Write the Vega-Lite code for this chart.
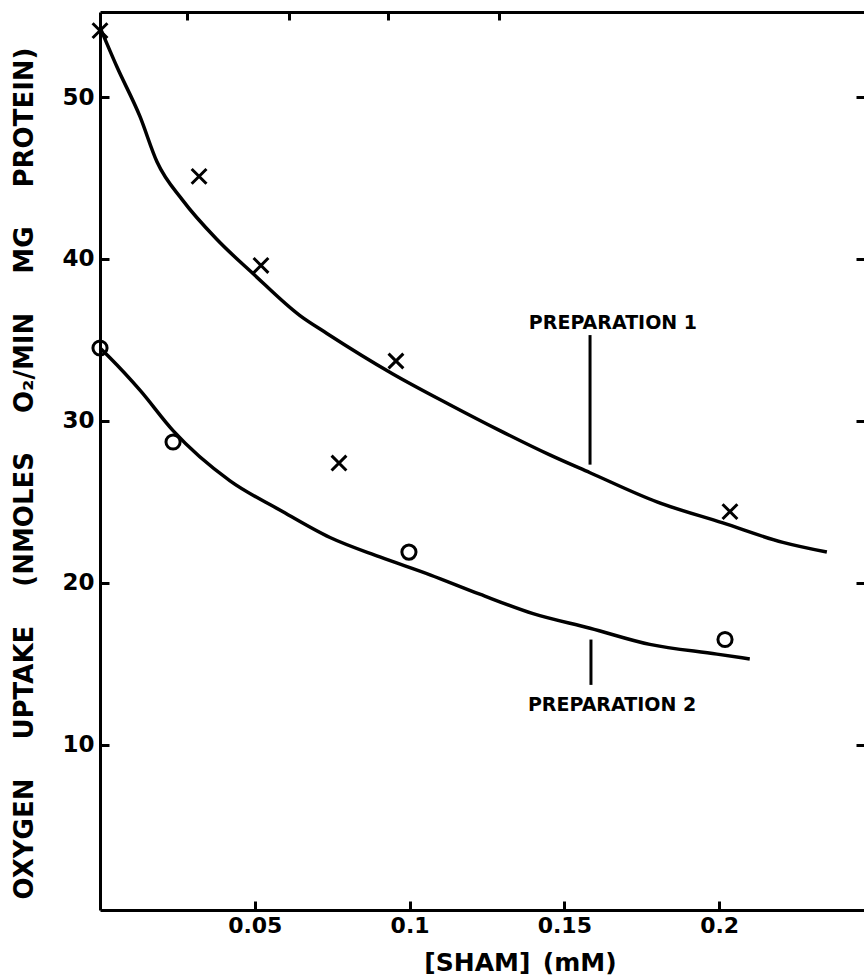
{
  "$schema": "https://vega.github.io/schema/vega-lite/v6.json",
  "width": 764,
  "height": 898,
  "autosize": {"type": "none"},
  "padding": {"left": 100, "top": 12, "right": 0, "bottom": 70},
  "background": "white",
  "config": {"view": {"stroke": null}},
  "datasets": {
    "curves": [
      {"series": "Preparation 1", "x": 0, "y": 54.3},
      {"series": "Preparation 1", "x": 0.0055, "y": 51.85},
      {"series": "Preparation 1", "x": 0.0129, "y": 48.8},
      {"series": "Preparation 1", "x": 0.0184, "y": 46.0},
      {"series": "Preparation 1", "x": 0.0268, "y": 43.6},
      {"series": "Preparation 1", "x": 0.0378, "y": 41.2},
      {"series": "Preparation 1", "x": 0.0494, "y": 39.1},
      {"series": "Preparation 1", "x": 0.0646, "y": 36.5},
      {"series": "Preparation 1", "x": 0.0733, "y": 35.4},
      {"series": "Preparation 1", "x": 0.0946, "y": 32.9},
      {"series": "Preparation 1", "x": 0.113, "y": 31.0},
      {"series": "Preparation 1", "x": 0.1292, "y": 29.4},
      {"series": "Preparation 1", "x": 0.1453, "y": 27.9},
      {"series": "Preparation 1", "x": 0.1583, "y": 26.8},
      {"series": "Preparation 1", "x": 0.1799, "y": 25.0},
      {"series": "Preparation 1", "x": 0.2012, "y": 23.7},
      {"series": "Preparation 1", "x": 0.2206, "y": 22.5},
      {"series": "Preparation 1", "x": 0.2348, "y": 21.9},
      {"series": "Preparation 2", "x": 0, "y": 34.5},
      {"series": "Preparation 2", "x": 0.0032, "y": 33.9},
      {"series": "Preparation 2", "x": 0.0129, "y": 31.9},
      {"series": "Preparation 2", "x": 0.0236, "y": 29.4},
      {"series": "Preparation 2", "x": 0.042, "y": 26.3},
      {"series": "Preparation 2", "x": 0.0581, "y": 24.5},
      {"series": "Preparation 2", "x": 0.0743, "y": 22.8},
      {"series": "Preparation 2", "x": 0.0904, "y": 21.6},
      {"series": "Preparation 2", "x": 0.1066, "y": 20.5},
      {"series": "Preparation 2", "x": 0.1227, "y": 19.3},
      {"series": "Preparation 2", "x": 0.1399, "y": 18.1},
      {"series": "Preparation 2", "x": 0.1583, "y": 17.2},
      {"series": "Preparation 2", "x": 0.1776, "y": 16.2},
      {"series": "Preparation 2", "x": 0.1993, "y": 15.6},
      {"series": "Preparation 2", "x": 0.2099, "y": 15.3}
    ],
    "prep1": [
      {"x": 0, "y": 54.1},
      {"x": 0.032, "y": 45.1},
      {"x": 0.052, "y": 39.6},
      {"x": 0.0772, "y": 27.4},
      {"x": 0.0956, "y": 33.7},
      {"x": 0.2035, "y": 24.4}
    ],
    "prep2": [
      {"x": 0, "y": 34.5},
      {"x": 0.0236, "y": 28.7},
      {"x": 0.0998, "y": 21.9},
      {"x": 0.2019, "y": 16.5}
    ],
    "labels": [
      {"label": "PREPARATION 1", "x": 0.1657, "y": 36.05},
      {"label": "PREPARATION 2", "x": 0.1654, "y": 12.47}
    ],
    "leaders": [
      {"x": 0.1583, "y": 35.3, "y2": 27.3},
      {"x": 0.1586, "y": 16.5, "y2": 13.7}
    ]
  },
  "resolve": {"axis": {"x": "independent", "y": "independent"}},
  "layer": [
    {
      "data": {"name": "curves"},
      "mark": {"type": "line", "color": "black", "strokeWidth": 3.5, "interpolate": "monotone"},
      "encoding": {
        "x": {
          "field": "x", "type": "quantitative",
          "scale": {"domain": [0, 0.2468], "nice": false, "zero": false},
          "axis": {
            "orient": "bottom", "values": [0.05, 0.1, 0.15, 0.2], "format": "~g",
            "grid": false, "domain": true, "domainColor": "black", "domainWidth": 3,
            "ticks": true, "tickSize": -9, "tickWidth": 3, "tickColor": "black",
            "labelFont": "DejaVu Sans", "labelFontSize": 22, "labelFontWeight": "bold", "labelColor": "black", "labelPadding": 14,
            "title": "[SHAM]\u2002(mM)", "titleFont": "DejaVu Sans", "titleFontSize": 25, "titleFontWeight": "bold",
            "titleColor": "black", "titleX": 420, "titleY": 52, "titleBaseline": "middle"
          }
        },
        "y": {
          "field": "y", "type": "quantitative",
          "scale": {"domain": [-0.2, 55.25], "nice": false, "zero": false},
          "axis": {
            "orient": "left", "values": [10, 20, 30, 40, 50],
            "grid": false, "domain": true, "domainColor": "black", "domainWidth": 3,
            "ticks": true, "tickSize": -9, "tickWidth": 3, "tickColor": "black",
            "labelFont": "DejaVu Sans", "labelFontSize": 23, "labelFontWeight": "bold", "labelColor": "black", "labelPadding": 15,
            "title": "OXYGEN\u2003\u2002UPTAKE\u2003\u2002(NMOLES\u2003\u2002O₂/MIN\u2003\u2002MG\u2003\u2002PROTEIN)",
            "titleFont": "DejaVu Sans", "titleFontSize": 26, "titleFontWeight": "bold", "titleColor": "black",
            "titleX": -76, "titleY": 461, "titleBaseline": "middle"
          }
        },
        "detail": {"field": "series", "type": "nominal"}
      }
    },
    {
      "data": {"name": "prep1"},
      "mark": {"type": "point", "shape": "M-1,-1L1,1M-1,1L1,-1", "size": 220, "filled": false, "color": "black", "strokeWidth": 3, "opacity": 1},
      "encoding": {
        "x": {
          "field": "x", "type": "quantitative",
          "scale": {"domain": [0, 0.2468], "nice": false, "zero": false},
          "axis": {
            "orient": "top", "values": [0.028, 0.061, 0.093, 0.129], "labels": false, "title": null,
            "grid": false, "domain": true, "domainColor": "black", "domainWidth": 3,
            "ticks": true, "tickSize": -8, "tickWidth": 3, "tickColor": "black"
          }
        },
        "y": {
          "field": "y", "type": "quantitative",
          "scale": {"domain": [-0.2, 55.25], "nice": false, "zero": false},
          "axis": {
            "orient": "right", "values": [10, 20, 30, 40, 50], "labels": false, "title": null,
            "grid": false, "domain": false,
            "ticks": true, "tickSize": -8, "tickWidth": 3, "tickColor": "black"
          }
        }
      }
    },
    {
      "data": {"name": "prep2"},
      "mark": {"type": "point", "shape": "circle", "size": 200, "filled": false, "color": "black", "strokeWidth": 3, "opacity": 1},
      "encoding": {
        "x": {"field": "x", "type": "quantitative", "axis": null},
        "y": {"field": "y", "type": "quantitative", "axis": null}
      }
    },
    {
      "data": {"name": "leaders"},
      "mark": {"type": "rule", "color": "black", "strokeWidth": 3},
      "encoding": {
        "x": {"field": "x", "type": "quantitative", "axis": null},
        "y": {"field": "y", "type": "quantitative", "axis": null},
        "y2": {"field": "y2"}
      }
    },
    {
      "data": {"name": "labels"},
      "mark": {"type": "text", "font": "DejaVu Sans", "fontSize": 19, "fontWeight": "bold", "color": "black", "align": "center", "baseline": "middle"},
      "encoding": {
        "x": {"field": "x", "type": "quantitative", "axis": null},
        "y": {"field": "y", "type": "quantitative", "axis": null},
        "text": {"field": "label"}
      }
    }
  ]
}
